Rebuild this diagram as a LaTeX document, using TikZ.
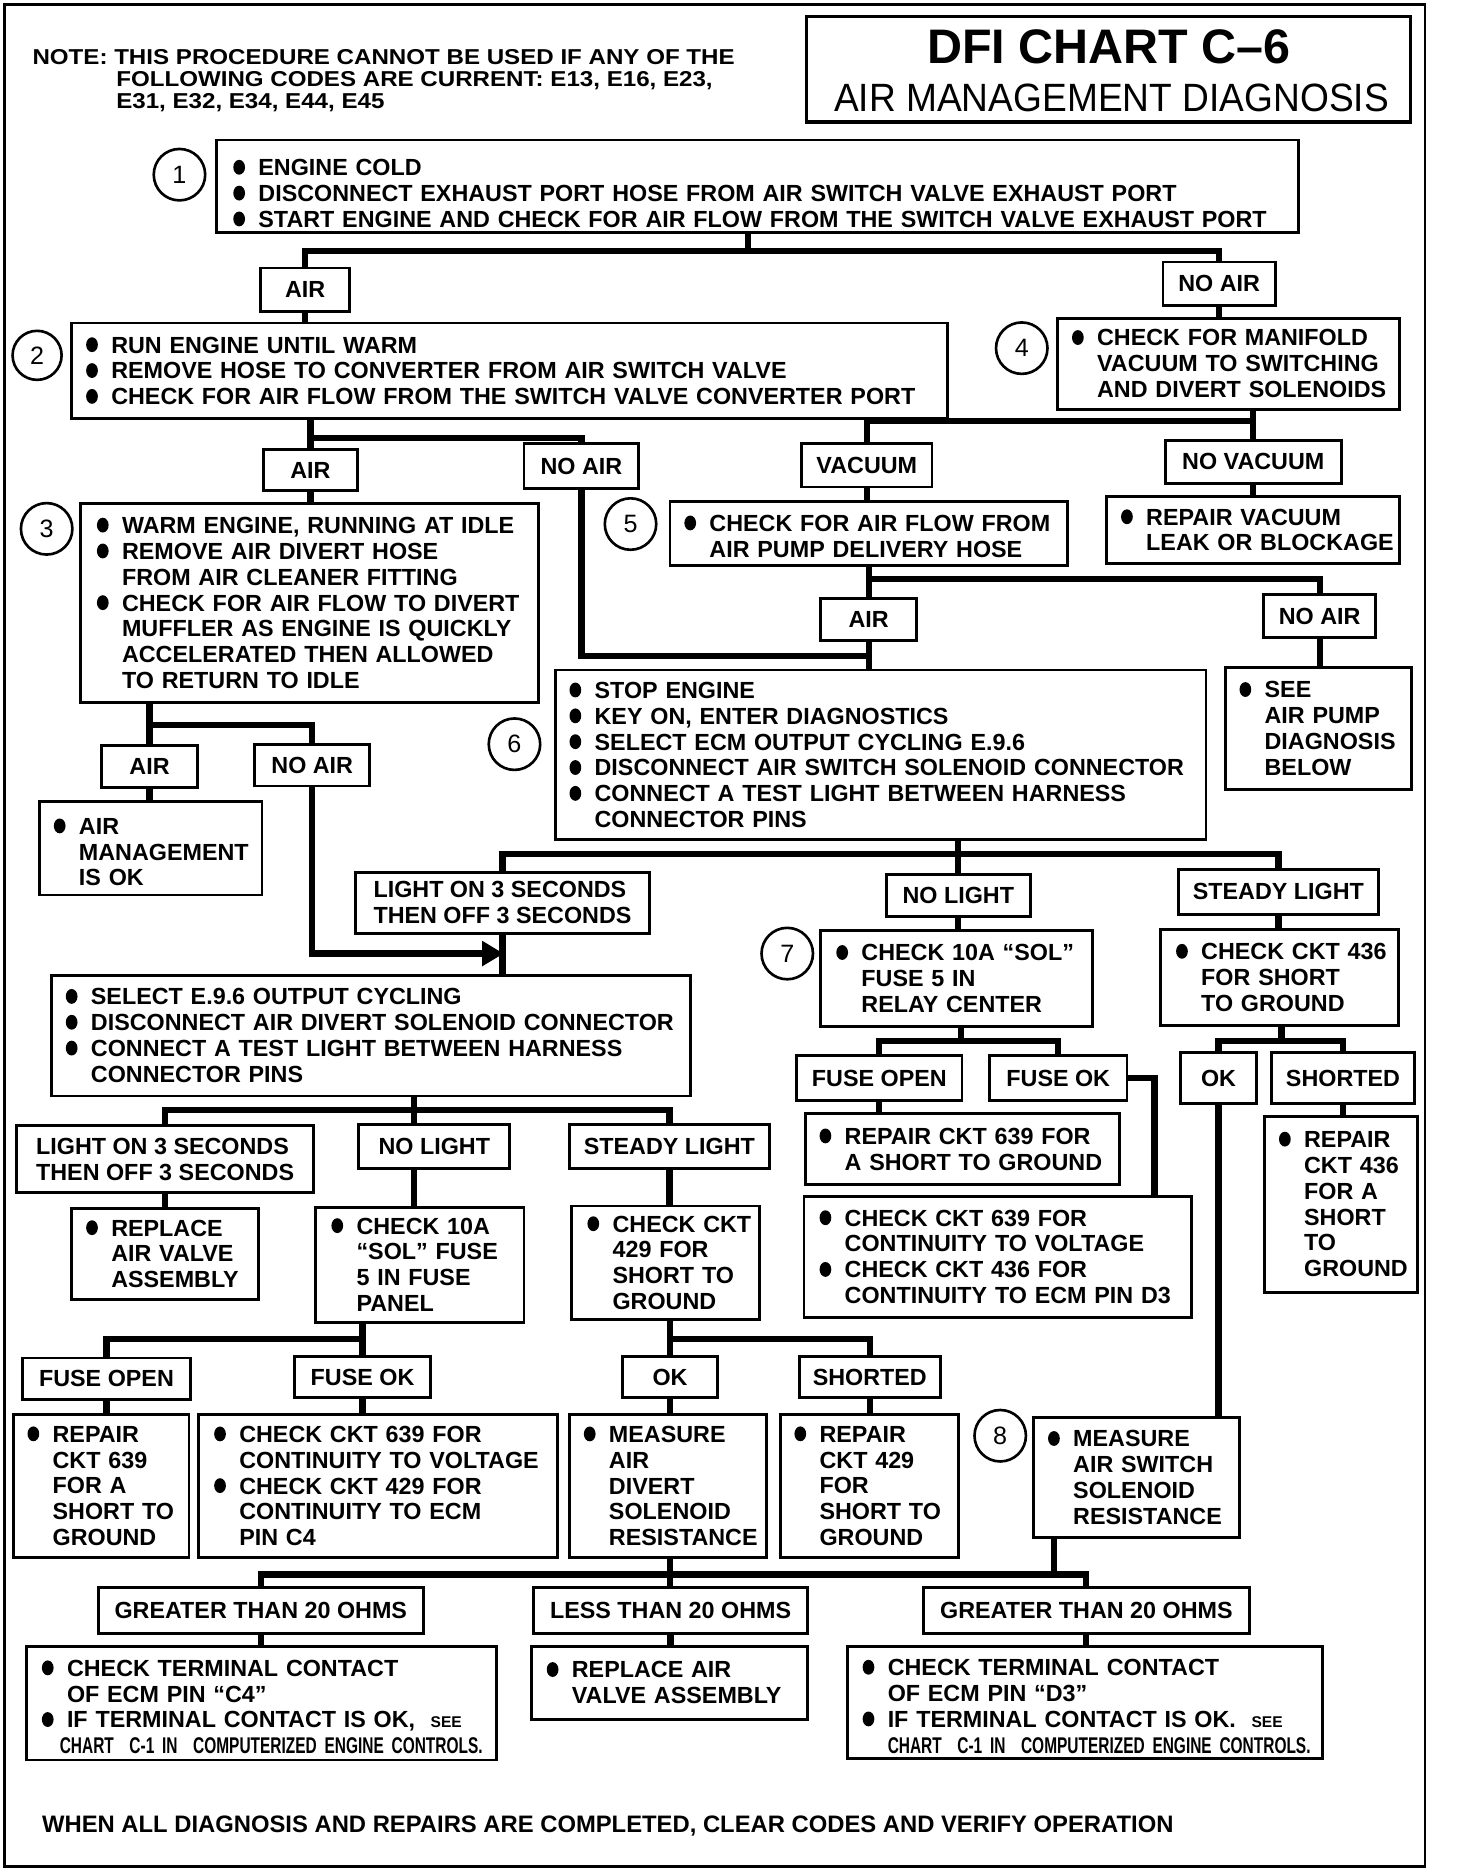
\documentclass[tikz,border=0pt]{standalone}
\usepackage{graphicx}
\usepackage{fontspec}
\usetikzlibrary{arrows.meta}
\newfontfamily\bxf{Liberation Sans}
\newfontfamily\notef{Liberation Sans}[FakeStretch=1.12]
\newfontfamily\numf{Liberation Sans}
\newfontfamily\condf{Liberation Sans}[FakeStretch=0.68]
\newfontfamily\subf{Liberation Sans}[FakeStretch=0.94]
\pgfdeclarelayer{bg}\pgfsetlayers{bg,main}
\newcommand\bul{\makebox[21pt][l]{\tikz[x=1pt,y=1pt,baseline=0pt]\fill (5,7) ellipse [x radius=4.9pt, y radius=6.2pt];}}
\newcommand\BU[1]{\mbox{\bul #1}}
\newcommand\CN[1]{\mbox{\hspace*{21pt}#1}}
\newcommand\TBox[7]{%
 \pgfmathsetmacro\bw{#4-#2}%
 \pgfmathsetmacro\bh{#5-#3}%
 \pgfmathsetmacro\bcx{(#2+#4)/2}%
 \pgfmathsetmacro\bcy{(#3+#5)/2}%
 \pgfmathsetmacro\btw{\bw-2*#6}%
 \node[bx, inner xsep=#6pt, text width=\btw pt, minimum height=\bh pt] (#1) at (\bcx,\bcy) {#7};}
\newcommand\LBox[6]{%
 \pgfmathsetmacro\bw{#4-#2}%
 \pgfmathsetmacro\bh{#5-#3}%
 \pgfmathsetmacro\bcx{(#2+#4)/2}%
 \pgfmathsetmacro\bcy{(#3+#5)/2}%
 \node[lbl, minimum width=\bw pt, minimum height=\bh pt] (#1) at (\bcx,\bcy) {#6};}
\begin{document}
\begin{tikzpicture}[x=1pt,y=-1pt,
  bx/.style={draw, line width=2.4pt, fill=white, inner ysep=0pt, align=left, font=\bxf\bfseries\fontsize{19.5}{21.6}\selectfont},
  lbl/.style={draw, line width=2.4pt, fill=white, inner sep=0pt, align=left, font=\bxf\bfseries\fontsize{19.5}{21.6}\selectfont},
  circ/.style={draw, circle, line width=2.2pt, minimum size=43pt, inner sep=0pt, font=\numf\fontsize{21}{21}\selectfont},
  conn/.style={line width=5.2pt, line cap=rect, line join=miter},
  txt/.style={inner sep=0pt, align=left, font=\bxf\bfseries\fontsize{19.5}{21.6}\selectfont}]
\useasboundingbox (0,0) rectangle (1217,1568);
\draw[line width=2.2pt] (4,4) rectangle (1191,1560);
% title
\node[draw, line width=2.8pt, minimum width=505pt, minimum height=88pt, inner sep=0pt] (title) at (926.5,58) {};
\node[anchor=base, inner sep=0pt, font=\bxf\bfseries\fontsize{40.5}{40.5}\selectfont] (t1) at (927,53) {DFI CHART C–6};
\node[anchor=base, inner sep=0pt, font=\subf\fontsize{33}{33}\selectfont] (t2) at (929,93.5) {AIR MANAGEMENT DIAGNOSIS};
\node[txt, anchor=north west, font=\notef\bfseries\fontsize{18}{18.5}\selectfont] (note) at (27,41) {NOTE: THIS PROCEDURE CANNOT BE USED IF ANY OF THE\\\hspace*{70pt}FOLLOWING CODES ARE CURRENT: E13, E16, E23,\\\hspace*{70pt}E31, E32, E34, E44, E45};
% circles
\node[circ] (c1) at (150,146) {1};
\node[circ, minimum size=41pt] (c2) at (31,297) {2};
\node[circ] (c3) at (39,442) {3};
\node[circ] (c4) at (854,291) {4};
\node[circ] (c5) at (527,438) {5};
\node[circ] (c6) at (430,622) {6};
\node[circ] (c7) at (658,797) {7};
\node[circ] (c8) at (836,1200) {8};
% text boxes
\TBox{b1}{181}{117}{1085}{194}{14}{\BU{\rule{0pt}{26pt}ENGINE COLD}\\\BU{DISCONNECT EXHAUST PORT HOSE FROM AIR SWITCH VALVE EXHAUST PORT}\\\BU{START ENGINE AND CHECK FOR AIR FLOW FROM THE SWITCH VALVE EXHAUST PORT}}
\TBox{b2}{60}{270}{792}{350}{12}{\BU{RUN ENGINE UNTIL WARM}\\\BU{REMOVE HOSE TO CONVERTER FROM AIR SWITCH VALVE}\\\BU{CHECK FOR AIR FLOW FROM THE SWITCH VALVE CONVERTER PORT}}
\TBox{b3}{67}{421}{450}{587}{14}{\BU{WARM ENGINE, RUNNING AT IDLE}\\\BU{REMOVE AIR DIVERT HOSE}\\\CN{FROM AIR CLEANER FITTING}\\\BU{CHECK FOR AIR FLOW TO DIVERT}\\\CN{MUFFLER AS ENGINE IS QUICKLY}\\\CN{ACCELERATED THEN ALLOWED}\\\CN{TO RETURN TO IDLE}}
\TBox{b4}{884}{266}{1170}{342}{12}{\BU{CHECK FOR MANIFOLD}\\\CN{VACUUM TO SWITCHING}\\\CN{AND DIVERT SOLENOIDS}}
\TBox{b5}{560}{419}{892}{473}{12}{\BU{\rule{0pt}{18pt}CHECK FOR AIR FLOW FROM}\\\CN{AIR PUMP DELIVERY HOSE}}
\TBox{rvac}{925}{415}{1170}{471}{12}{\BU{REPAIR VACUUM}\\\CN{LEAK OR BLOCKAGE}}
\TBox{see}{1024}{558}{1180}{660}{12}{\BU{SEE}\\\CN{AIR PUMP}\\\CN{DIAGNOSIS}\\\CN{BELOW}}
\TBox{b6}{464}{560}{1008}{702}{12}{\BU{STOP ENGINE}\\\BU{KEY ON, ENTER DIAGNOSTICS}\\\BU{SELECT ECM OUTPUT CYCLING E.9.6}\\\BU{DISCONNECT AIR SWITCH SOLENOID CONNECTOR}\\\BU{CONNECT A TEST LIGHT BETWEEN HARNESS}\\\CN{CONNECTOR PINS}}
\TBox{amok}{33}{670}{219}{748}{12}{\BU{\rule{0pt}{20pt}AIR}\\\CN{MANAGEMENT}\\\CN{IS OK}}
\TBox{b9}{43}{815}{577}{916}{12}{\BU{SELECT E.9.6 OUTPUT CYCLING}\\\BU{DISCONNECT AIR DIVERT SOLENOID CONNECTOR}\\\BU{CONNECT A TEST LIGHT BETWEEN HARNESS}\\\CN{CONNECTOR PINS}}
\TBox{rav}{60}{1010}{216}{1086}{12}{\BU{REPLACE}\\\CN{AIR VALVE}\\\CN{ASSEMBLY}}
\TBox{chkp}{264}{1009}{438}{1105}{13}{\BU{CHECK 10A}\\\CN{“SOL” FUSE}\\\CN{5 IN FUSE}\\\CN{PANEL}}
\TBox{c429}{478}{1008}{635}{1103}{13}{\BU{CHECK CKT}\\\CN{429 FOR}\\\CN{SHORT TO}\\\CN{GROUND}}
\TBox{r639L}{11}{1182}{158}{1302}{12}{\BU{REPAIR}\\\CN{CKT 639}\\\CN{FOR A}\\\CN{SHORT TO}\\\CN{GROUND}}
\TBox{cc639L}{166}{1182}{466}{1302}{13}{\BU{CHECK CKT 639 FOR}\\\CN{CONTINUITY TO VOLTAGE}\\\BU{CHECK CKT 429 FOR}\\\CN{CONTINUITY TO ECM}\\\CN{PIN C4}}
\TBox{mad}{476}{1182}{641}{1302}{12}{\BU{MEASURE}\\\CN{AIR}\\\CN{DIVERT}\\\CN{SOLENOID}\\\CN{RESISTANCE}}
\TBox{r429}{652}{1182}{801}{1302}{12}{\BU{REPAIR}\\\CN{CKT 429}\\\CN{FOR}\\\CN{SHORT TO}\\\CN{GROUND}}
\TBox{b7}{686}{778}{913}{858}{13}{\BU{CHECK 10A “SOL”}\\\CN{FUSE 5 IN}\\\CN{RELAY CENTER}}
\TBox{r639R}{673}{931}{936}{990}{12}{\BU{REPAIR CKT 639 FOR}\\\CN{A SHORT TO GROUND}}
\TBox{cc639R}{672}{1000}{996}{1101}{13}{\BU{CHECK CKT 639 FOR}\\\CN{CONTINUITY TO VOLTAGE}\\\BU{CHECK CKT 436 FOR}\\\CN{CONTINUITY TO ECM PIN D3}}
\TBox{c436}{970}{777}{1169}{857}{13}{\BU{CHECK CKT 436}\\\CN{FOR SHORT}\\\CN{TO GROUND}}
\TBox{r436}{1057}{933}{1185}{1080}{12}{\BU{REPAIR}\\\CN{CKT 436}\\\CN{FOR A}\\\CN{SHORT}\\\CN{TO}\\\CN{GROUND}}
\TBox{b8}{864}{1185}{1036}{1285}{12}{\BU{MEASURE}\\\CN{AIR SWITCH}\\\CN{SOLENOID}\\\CN{RESISTANCE}}
\TBox{ctL}{22}{1376}{415}{1471}{13}{\BU{\rule{0pt}{20pt}CHECK TERMINAL CONTACT}\\\CN{OF ECM PIN “C4”}\\\BU{IF TERMINAL CONTACT IS OK,\ \ {\fontsize{13}{13}\selectfont SEE}}\\\mbox{\hspace*{15pt}\condf\fontsize{19}{21.6}\selectfont CHART\ \ C-1 IN\ \ COMPUTERIZED ENGINE CONTROLS.}}
\TBox{ravM}{444}{1376}{675}{1437}{13}{\BU{REPLACE AIR}\\\CN{VALVE ASSEMBLY}}
\TBox{ctR}{708}{1376}{1105}{1470}{13}{\BU{\rule{0pt}{20pt}CHECK TERMINAL CONTACT}\\\CN{OF ECM PIN “D3”}\\\BU{IF TERMINAL CONTACT IS OK.\ \ {\fontsize{13}{13}\selectfont SEE}}\\\mbox{\hspace*{21pt}\condf\fontsize{19}{21.6}\selectfont CHART\ \ C-1 IN\ \ COMPUTERIZED ENGINE CONTROLS.}}
% label boxes
\LBox{air1}{218}{224}{292}{260}{AIR}
\LBox{noair1}{972}{219}{1066}{255}{NO AIR}
\LBox{air2}{220}{376}{299}{410}{AIR}
\LBox{noair2}{438}{371}{534}{408}{NO AIR}
\LBox{vac}{670}{371}{779}{407}{VACUUM}
\LBox{novac}{974}{368}{1121}{404}{NO VACUUM}
\LBox{air5}{686}{500}{766}{535}{AIR}
\LBox{noair5}{1056}{497}{1150}{533}{NO AIR}
\LBox{air3}{85}{623}{165}{658}{AIR}
\LBox{noair3}{213}{622}{309}{657}{NO AIR}
\LBox{lon6}{297}{729}{543}{780}{LIGHT ON 3 SECONDS\\THEN OFF 3 SECONDS}
\LBox{nol6}{741}{731}{861}{766}{NO LIGHT}
\LBox{stl6}{985}{727}{1152}{764}{STEADY LIGHT}
\LBox{lonL}{14}{941}{262}{997}{LIGHT ON 3 SECONDS\\THEN OFF 3 SECONDS}
\LBox{nolL}{300}{940}{426}{977}{NO LIGHT}
\LBox{stlL}{476}{940}{643}{977}{STEADY LIGHT}
\LBox{fopL}{19}{1135}{159}{1170}{FUSE OPEN}
\LBox{fokL}{246}{1134}{360}{1168}{FUSE OK}
\LBox{okL}{520}{1134}{600}{1168}{OK}
\LBox{shL}{668}{1134}{786}{1168}{SHORTED}
\LBox{fopR}{666}{882}{804}{920}{FUSE OPEN}
\LBox{fokR}{827}{882}{942}{920}{FUSE OK}
\LBox{okR}{987}{880}{1050}{922}{OK}
\LBox{shR}{1063}{880}{1182}{922}{SHORTED}
\LBox{gtL}{82}{1327}{354}{1365}{GREATER THAN 20 OHMS}
\LBox{ltM}{446}{1327}{675}{1365}{LESS THAN 20 OHMS}
\LBox{gtR}{772}{1327}{1044}{1365}{GREATER THAN 20 OHMS}
\node[txt, anchor=base west, font=\bxf\bfseries\fontsize{19.9}{21.6}\selectfont] (foot) at (35,1532) {WHEN ALL DIAGNOSIS AND REPAIRS ARE COMPLETED, CLEAR CODES AND VERIFY OPERATION};
% junctions
\coordinate (j1) at (625,210);
\coordinate (j2) at (259.5,366);
\coordinate (j4) at (1047.5,352);
\coordinate (j5) at (726,484);
\coordinate (jn) at (726,548);
\coordinate (j3) at (125,606);
\coordinate (ar) at (421,797);
\coordinate (j6) at (801,714);
\coordinate (j9) at (346,928);
\coordinate (jc) at (303,1119);
\coordinate (jd) at (560,1119);
\coordinate (j7) at (803,870);
\coordinate (jf) at (965,901);
\coordinate (j436) at (1071,870);
\coordinate (jb) at (560,1316);
\coordinate (jb8) at (881,1316);
\begin{pgfonlayer}{bg}
\draw[conn] (b1.south -| j1) -- (j1);
\draw[conn] (air1.north) |- (j1) -| (noair1.north);
\draw[conn] (air1.south) -- (air1.south |- b2.north);
\draw[conn] (noair1.south) -- (noair1.south |- b4.north);
\draw[conn] (b2.south -| j2) -- (j2);
\draw[conn] (air2.north) |- (j2) -| (noair2.north);
\draw[conn] (air2.south) -- (air2.south |- b3.north);
\draw[conn] (noair2.south) |- (jn);
\draw[conn] (b4.south -| j4) -- (j4);
\draw[conn] (vac.north) |- (j4) -| (novac.north);
\draw[conn] (vac.south) -- (vac.south |- b5.north);
\draw[conn] (novac.south) -- (novac.south |- rvac.north);
\draw[conn] (b5.south -| j5) -- (j5);
\draw[conn] (air5.north) |- (j5) -| (noair5.north);
\draw[conn] (air5.south) -- (air5.south |- b6.north);
\draw[conn] (noair5.south) -- (noair5.south |- see.north);
\draw[conn] (b3.south -| j3) -- (j3);
\draw[conn] (air3.north) |- (j3) -| (noair3.north);
\draw[conn] (air3.south) -- (air3.south |- amok.north);
\draw[conn, -{Triangle[length=18pt,width=20pt]}] (noair3.south) |- (ar);
\draw[conn] (b6.south -| j6) -- (nol6.north -| j6);
\draw[conn] (lon6.north) |- (j6) -| (stl6.north);
\draw[conn] (lon6.south) -- (lon6.south |- b9.north);
\draw[conn] (nol6.south) -- (nol6.south |- b7.north);
\draw[conn] (stl6.south) -- (stl6.south |- c436.north);
\draw[conn] (b9.south -| j9) -- (nolL.north -| j9);
\draw[conn] (lonL.north) |- (j9) -| (stlL.north);
\draw[conn] (lonL.south) -- (lonL.south |- rav.north);
\draw[conn] (nolL.south -| j9) -- (chkp.north -| j9);
\draw[conn] (stlL.south) -- (stlL.south |- c429.north);
\draw[conn] (chkp.south -| jc) -- (jc);
\draw[conn] (fopL.north) |- (jc) -| (fokL.north);
\draw[conn] (fopL.south) -- (fopL.south |- r639L.north);
\draw[conn] (fokL.south) -- (fokL.south |- cc639L.north);
\draw[conn] (c429.south -| jd) -- (jd);
\draw[conn] (okL.north) |- (jd) -| (shL.north);
\draw[conn] (okL.south) -- (okL.south |- mad.north);
\draw[conn] (shL.south) -- (shL.south |- r429.north);
\draw[conn] (b7.south -| j7) -- (j7);
\draw[conn] (fopR.north) |- (j7) -| (fokR.north);
\draw[conn] (fopR.south) -- (fopR.south |- r639R.north);
\draw[conn] (fokR.east) -| (jf |- cc639R.north);
\draw[conn] (c436.south -| j436) -- (j436);
\draw[conn] (okR.north) |- (j436) -| (shR.north);
\draw[conn] (shR.south) -- (shR.south |- r436.north);
\draw[conn] (okR.south) -- (okR.south |- b8.north);
\draw[conn] (mad.south -| jb) -- (ltM.north -| jb);
\draw[conn] (gtL.north) |- (jb) -| (gtR.north);
\draw[conn] (b8.south -| jb8) -- (jb8);
\draw[conn] (gtL.south) -- (gtL.south |- ctL.north);
\draw[conn] (ltM.south) -- (ltM.south |- ravM.north);
\draw[conn] (gtR.south) -- (gtR.south |- ctR.north);
\end{pgfonlayer}
\end{tikzpicture}
\end{document}
